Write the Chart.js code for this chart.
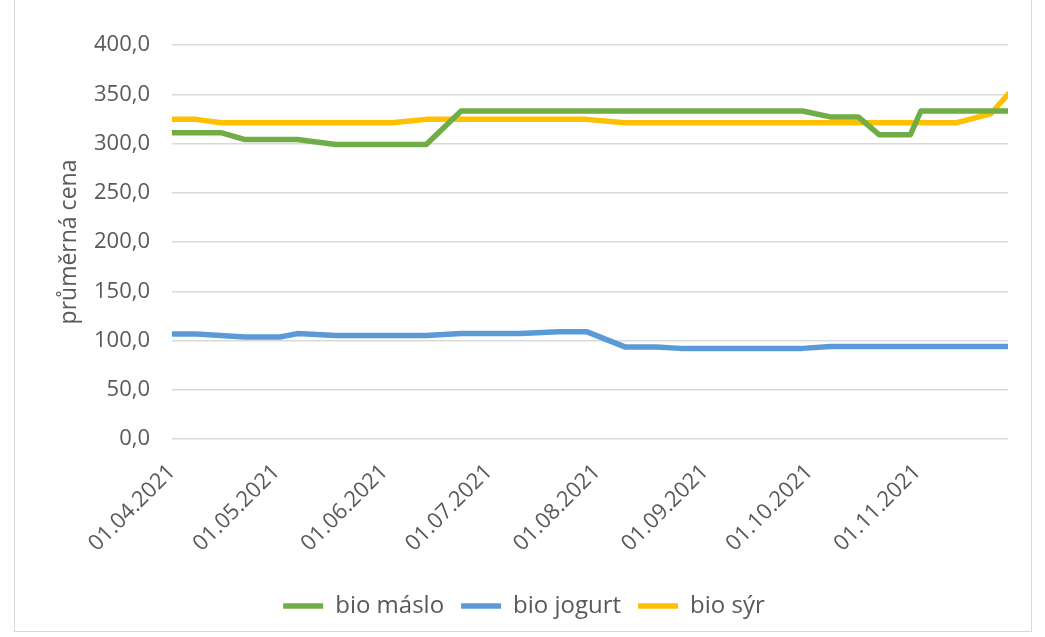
<!DOCTYPE html>
<html>
 <head>
  <meta charset="utf-8" />
  <title></title>
  <style>
   html, body { margin: 0; padding: 0; background: #fff; }
   #wrap { position: relative; width: 1045px; height: 637px; }
   #frame { position: absolute; left: 14px; top: -1px; width: 1016px; height: 631px; border: 1px solid #d9d9d9; }
   canvas { position: absolute; left: 0; top: 0; }
  </style>
 </head>
 <body>
  <div id="wrap">
   <div id="frame"></div>
   <canvas id="priceChart" width="1045" height="637"></canvas>
  </div>

  <script src="https://cdn.jsdelivr.net/npm/chart.js@4/dist/chart.umd.min.js"></script>
  <script>

// dates of the price observations
var dates = ["01.04.2021", "08.04.2021", "15.04.2021", "22.04.2021", "02.05.2021", "07.05.2021",
             "18.05.2021", "03.06.2021", "13.06.2021", "23.06.2021", "10.07.2021", "21.07.2021",
             "29.07.2021", "09.08.2021", "18.08.2021", "25.08.2021", "29.09.2021", "07.10.2021",
             "15.10.2021", "21.10.2021", "30.10.2021", "02.11.2021", "12.11.2021", "22.11.2021",
             "27.11.2021"];

var bioMaslo  = [311, 311, 311, 304, 304, 304, 299, 299, 299, 333, 333, 333,
                 333, 333, 333, 333, 333, 327, 327, 309, 309, 333, 333, 333, 333];
var bioJogurt = [106.5, 106.5, 105, 103.5, 103.5, 107, 105, 105, 105, 107, 107, 109,
                 109, 93.5, 93.5, 92, 92, 94, 94, 94, 94, 94, 94, 94, 94];
var bioSyr    = [324.5, 324.5, 321, 321, 321, 321, 321, 321, 324.5, 324.5, 324.5, 324.5,
                 324.5, 321, 321, 321, 321, 321, 321, 321, 321, 321, 321, 330, 350];

var tickLabels = ["01.04.2021", "01.05.2021", "01.06.2021", "01.07.2021",
                  "01.08.2021", "01.09.2021", "01.10.2021", "01.11.2021"];

function dayNo(s) {
    var p = s.split('.');
    return (Date.UTC(+p[2], +p[1] - 1, +p[0]) - Date.UTC(2021, 3, 1)) / 86400000;
}

function pts(vals) {
    return vals.map(function (v, i) { return { x: dayNo(dates[i]), y: v }; });
}

var tickDays = tickLabels.map(dayNo);
var font = "Open Sans, Liberation Sans, sans-serif";
var grey = '#595959';
var lw = 5.5;

var ctx = document.getElementById("priceChart");
var chart = new Chart(ctx, {
    type: 'line',
    data: {
        datasets: [
            { label: 'bio máslo',  data: pts(bioMaslo),  borderColor: '#70AD47', backgroundColor: '#70AD47', borderWidth: lw },
            { label: 'bio jogurt', data: pts(bioJogurt), borderColor: '#5B9BD5', backgroundColor: '#5B9BD5', borderWidth: lw },
            { label: 'bio sýr',    data: pts(bioSyr),    borderColor: '#FFC000', backgroundColor: '#FFC000', borderWidth: lw }
        ]
    },
    options: {
        responsive: false,
        animation: false,
        elements: {
            line: { tension: 0, borderCapStyle: 'round', borderJoinStyle: 'round', fill: false },
            point: { radius: 0, hoverRadius: 0 }
        },
        layout: { padding: { top: 45, right: 37, left: 40, bottom: 9 } },
        plugins: {
            tooltip: { enabled: false },
            legend: {
                position: 'bottom',
                labels: {
                    usePointStyle: true,
                    pointStyle: 'line',
                    pointStyleWidth: 40,
                    padding: 17,
                    color: grey,
                    font: { family: font, size: 24 }
                }
            }
        },
        scales: {
            x: {
                type: 'linear',
                min: 0,
                max: 240,
                grid: { display: false },
                border: { display: false },
                afterBuildTicks: function (s) {
                    s.ticks = tickDays.map(function (d) { return { value: d }; });
                },
                afterFit: function (s) { s.height = 138; },
                ticks: {
                    autoSkip: false,
                    minRotation: 45,
                    maxRotation: 45,
                    padding: 12,
                    color: grey,
                    font: { family: font, size: 22 },
                    callback: function (v) {
                        var i = tickDays.indexOf(v);
                        return i >= 0 ? tickLabels[i] : '';
                    }
                }
            },
            y: {
                min: 0,
                max: 400,
                afterFit: function (s) { s.width = 132; },
                grid: { color: '#d9d9d9', lineWidth: 1.5, drawTicks: false },
                border: { display: false },
                title: {
                    display: true,
                    text: 'průměrná cena',
                    color: grey,
                    font: { family: font, size: 23 },
                    padding: { top: 16 }
                },
                ticks: {
                    stepSize: 50,
                    padding: 22,
                    color: grey,
                    font: { family: font, size: 22 },
                    callback: function (v) { return v.toFixed(1).replace('.', ','); }
                }
            }
        }
    }
});

  </script>
 </body>
</html>
